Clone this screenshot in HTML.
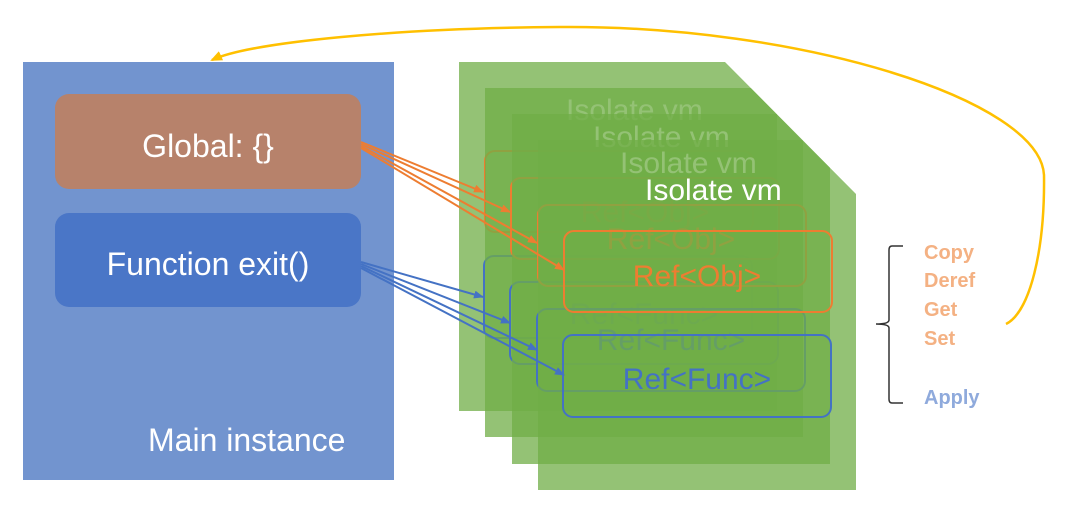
<!DOCTYPE html>
<html><head><meta charset="utf-8"><style>
html,body{margin:0;padding:0;background:#fff;}
svg{display:block;font-family:"Liberation Sans",sans-serif;}
</style></head><body>
<svg width="1067" height="510" viewBox="0 0 1067 510" xmlns="http://www.w3.org/2000/svg">
<defs>
<clipPath id="cp"><polygon points="0,0 725,0 725,62 856,194 856,510 0,510"/></clipPath>
<marker id="ao" markerWidth="10" markerHeight="8" refX="9" refY="4" orient="auto" markerUnits="userSpaceOnUse" viewBox="0 0 10 8"><path d="M0,0 L10,4 L0,8z" fill="#ed7d31"/></marker>
<marker id="ab" markerWidth="10" markerHeight="8" refX="9" refY="4" orient="auto" markerUnits="userSpaceOnUse" viewBox="0 0 10 8"><path d="M0,0 L10,4 L0,8z" fill="#4472c4"/></marker>
<marker id="ay" markerWidth="12" markerHeight="10" refX="10" refY="5" orient="auto" markerUnits="userSpaceOnUse" viewBox="0 0 12 10"><path d="M0,0 L12,5 L0,10z" fill="#ffc000"/></marker>
</defs>
<!-- main instance -->
<rect x="23" y="62" width="371" height="418" fill="#7294cf"/>
<rect x="55" y="94" width="306" height="95" rx="14" fill="#b7826b"/>
<text x="208" y="157" font-size="32" fill="#fff" text-anchor="middle">Global: {}</text>
<rect x="55" y="213" width="306" height="94" rx="14" fill="#4a76c7"/>
<text x="208" y="275" font-size="32" fill="#fff" text-anchor="middle">Function exit()</text>
<text x="148" y="451" font-size="32" fill="#fff">Main instance</text>
<!-- isolate stack -->
<g clip-path="url(#cp)">
<g>
<rect x="459" y="62" width="318" height="349" fill="#70ad47" opacity="0.75"/>
<text x="566" y="120" font-size="30" fill="#fff">Isolate vm</text>
<rect x="485" y="151" width="268" height="81" rx="10" fill="none" stroke="#ed7d31" stroke-width="2"/>
<rect x="484" y="256" width="268" height="82" rx="10" fill="none" stroke="#4472c4" stroke-width="2"/>
</g>
<g>
<rect x="485" y="88" width="318" height="349" fill="#70ad47" opacity="0.75"/>
<text x="593" y="147" font-size="30" fill="#fff">Isolate vm</text>
<rect x="511" y="178" width="268" height="81" rx="10" fill="none" stroke="#ed7d31" stroke-width="2"/>
<text x="645" y="222" font-size="30" fill="#ed7d31" text-anchor="middle">Ref&lt;Obj&gt;</text>
<rect x="510" y="282" width="268" height="82" rx="10" fill="none" stroke="#4472c4" stroke-width="2"/>
<text x="644" y="324" font-size="30" fill="#4472c4" text-anchor="middle">Ref&lt;Func&gt;</text>
</g>
<g>
<rect x="512" y="114" width="318" height="350" fill="#70ad47" opacity="0.75"/>
<text x="620" y="173" font-size="30" fill="#fff">Isolate vm</text>
<rect x="538" y="205" width="268" height="81" rx="10" fill="none" stroke="#ed7d31" stroke-width="2"/>
<text x="671" y="249" font-size="30" fill="#ed7d31" text-anchor="middle">Ref&lt;Obj&gt;</text>
<rect x="537" y="309" width="268" height="82" rx="10" fill="none" stroke="#4472c4" stroke-width="2"/>
<text x="671" y="350" font-size="30" fill="#4472c4" text-anchor="middle">Ref&lt;Func&gt;</text>
</g>
<g>
<rect x="538" y="140" width="318" height="350" fill="#70ad47" opacity="0.75"/>
<text x="645" y="200" font-size="30" fill="#fff">Isolate vm</text>
<rect x="564" y="231" width="268" height="81" rx="10" fill="none" stroke="#ed7d31" stroke-width="2"/>
<text x="697" y="286" font-size="30" fill="#ed7d31" text-anchor="middle">Ref&lt;Obj&gt;</text>
<rect x="563" y="335" width="268" height="82" rx="10" fill="none" stroke="#4472c4" stroke-width="2"/>
<text x="697" y="389" font-size="30" fill="#4472c4" text-anchor="middle">Ref&lt;Func&gt;</text>
</g>
</g>
<!-- arrows -->
<g stroke="#ed7d31" stroke-width="2" fill="none">
<line x1="361" y1="142" x2="483" y2="192" marker-end="url(#ao)"/>
<line x1="361" y1="144" x2="510" y2="212" marker-end="url(#ao)"/>
<line x1="361" y1="146" x2="537" y2="243" marker-end="url(#ao)"/>
<line x1="361" y1="148" x2="564" y2="270" marker-end="url(#ao)"/>
</g>
<g stroke="#4472c4" stroke-width="2" fill="none">
<line x1="361" y1="262" x2="483" y2="297" marker-end="url(#ab)"/>
<line x1="361" y1="264" x2="510" y2="323" marker-end="url(#ab)"/>
<line x1="361" y1="266" x2="537" y2="350" marker-end="url(#ab)"/>
<line x1="361" y1="268" x2="564" y2="375" marker-end="url(#ab)"/>
</g>
<!-- brace -->
<path d="M903,246 L892,246 Q889,246 889,250 L889,320 Q889,324 876,324 Q889,324 889,328 L889,399 Q889,403 892,403 L903,403" fill="none" stroke="#333" stroke-width="1.5"/>
<g font-size="20" font-weight="bold" fill="#f4b183">
<text x="924" y="259">Copy</text>
<text x="924" y="287">Deref</text>
<text x="924" y="316">Get</text>
<text x="924" y="345">Set</text>
</g>
<text x="924" y="404" font-size="20" font-weight="bold" fill="#8faadc">Apply</text>
<!-- yellow curve -->
<path d="M1006,324 C1030,312 1045,250 1044,175 C1040,100 800,25 560,27 C400,28 250,42 212,60" fill="none" stroke="#ffc000" stroke-width="2.5" marker-end="url(#ay)"/>
</svg>
</body></html>
